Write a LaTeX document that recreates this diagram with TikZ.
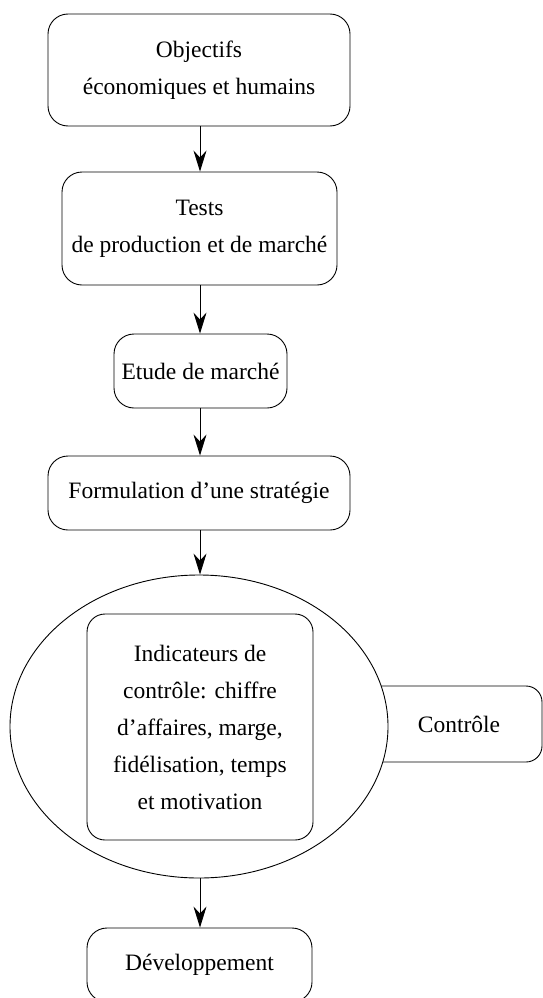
\documentclass[tikz,border=0pt]{standalone}
\usepackage{fontspec}
\setmainfont{Liberation Serif}
\usetikzlibrary{arrows.meta,shapes.geometric}
\begin{document}
\begin{tikzpicture}[x=1pt,y=-1pt,
  every node/.style={font=\fontsize{23.5}{37}\selectfont},
  stepbox/.style={draw, line width=0.9pt, rounded corners=20pt, align=center, inner sep=0pt, fill=white},
  lbl/.style={align=center, inner sep=0pt},
  arr/.style={draw, line width=0.9pt, -{Stealth[length=21pt,width=13pt,inset=7pt]}}]
\useasboundingbox (0,0) rectangle (542,998);
\node[stepbox, minimum width=302pt, minimum height=112pt] (b1) at (199,70) {Objectifs\\économiques et humains};
\node[stepbox, minimum width=275pt, minimum height=113pt] (b2) at (199.5,228.5) {Tests\\de production et de marché};
\node[stepbox, minimum width=173pt, minimum height=74pt] (b3) at (200.5,371) {Etude de marché};
\node[stepbox, minimum width=302pt, minimum height=74pt] (b4) at (199,493) {Formulation d’une stratégie};
\node[stepbox, rounded corners=16pt, minimum width=200pt, minimum height=76pt] (ctl) at (442,724) {};
\node[lbl] (ctltxt) at (459,724) {Contrôle};
\node[ellipse, draw, line width=0.9pt, fill=white, inner sep=0pt, minimum width=378pt, minimum height=303pt] (ell) at (199,726.5) {};
\node[stepbox, rounded corners=18pt, minimum width=226pt, minimum height=226pt] (ind) at (200,727) {Indicateurs de\\contrôle: chiffre\\d’affaires, marge,\\fidélisation, temps\\et motivation};
\node[stepbox, minimum width=225pt, minimum height=74pt] (b6) at (199.5,965) {Développement};
\draw[arr] (b1.south -| 200,0) -- (b2.north -| 200,0);
\draw[arr] (b2.south -| 200,0) -- (b3.north -| 200,0);
\draw[arr] (b3.south -| 200,0) -- (b4.north -| 200,0);
\draw[arr] (b4.south -| 200,0) -- (ell.north -| 200,0);
\draw[arr] (ell.south -| 200,0) -- (b6.north -| 200,0);
\end{tikzpicture}
\end{document}
